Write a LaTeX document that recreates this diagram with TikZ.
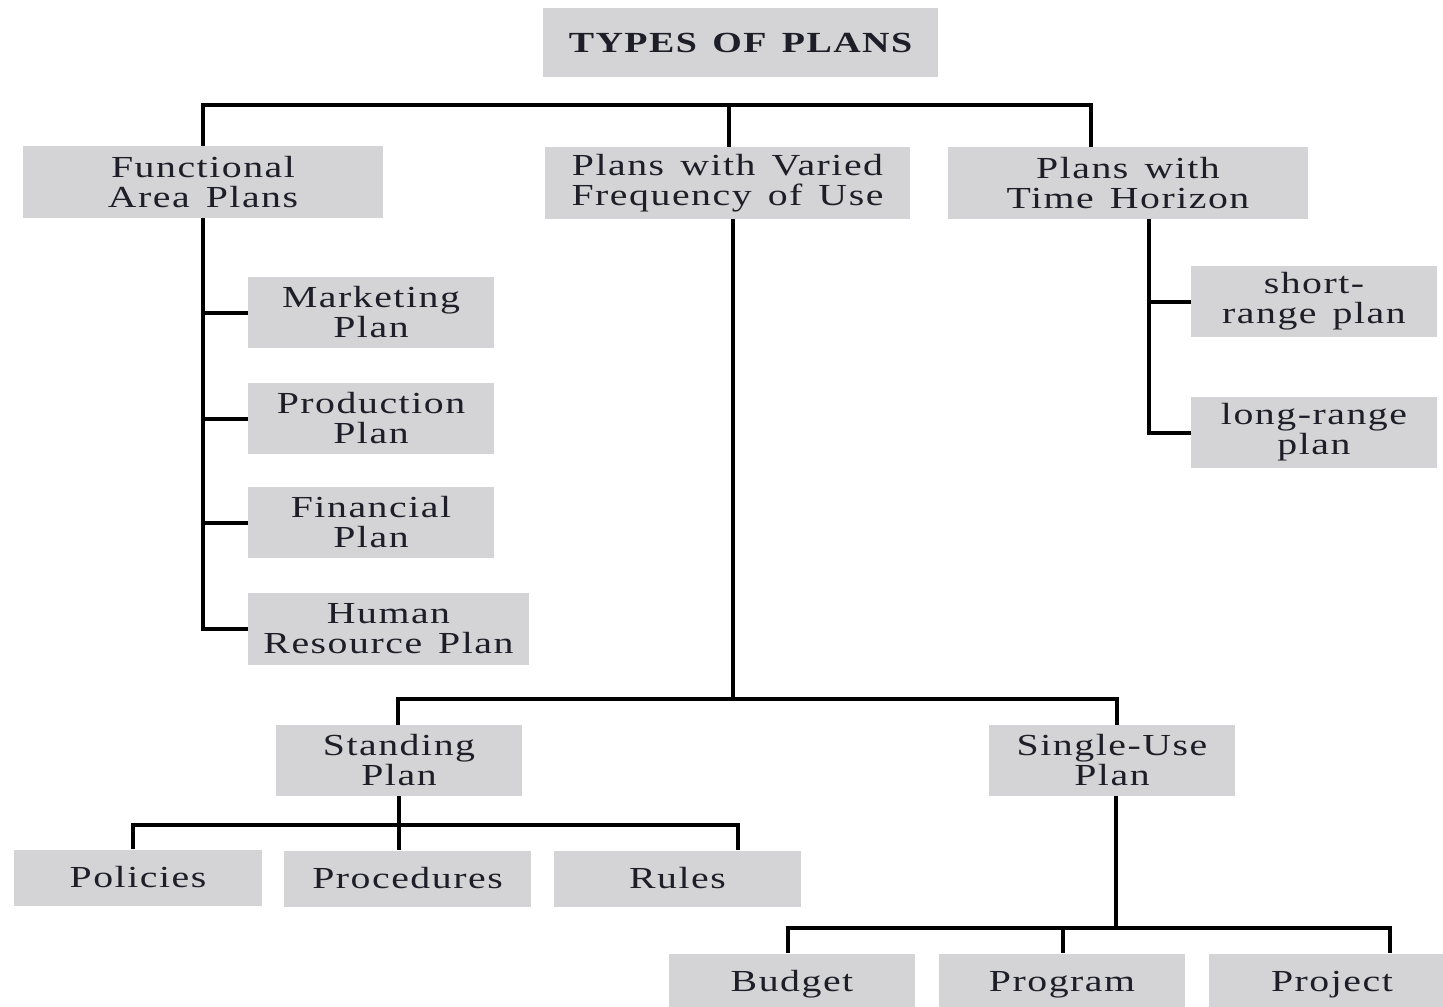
\documentclass[tikz,border=0pt]{standalone}
\usepackage{fontspec}
\setmainfont{Liberation Serif}[FakeStretch=1.3,LetterSpace=5,WordSpace=1.4]
\usetikzlibrary{calc}
\definecolor{boxgray}{RGB}{212,212,214}
\definecolor{ink}{RGB}{30,30,40}
\begin{document}
\begin{tikzpicture}[x=0.5pt,y=-0.5pt,
  pbox/.style={fill=boxgray, text=ink, align=center, inner sep=0pt,
    font=\fontsize{15.3}{15}\selectfont},
  conn/.style={draw=black, line width=2pt}]
\useasboundingbox (0,0) rectangle (1443,1006);
\clip (0,0) rectangle (1443,1006);
\fill[white] (0,0) rectangle (1443,1006);

% title
\node[pbox, minimum width=197.5pt, minimum height=34.5pt,
  font=\fontsize{14.6}{15}\selectfont\bfseries] (title) at (740.5,43) {TYPES OF PLANS};

% level 1
\node[pbox, minimum width=180pt, minimum height=36pt] (fa) at (203,182) {Functional\\Area Plans};
\node[pbox, minimum width=182.5pt, minimum height=36pt] (vu) at (727.5,183) {Plans with Varied\\Frequency of Use};
\node[pbox, minimum width=180pt, minimum height=36pt] (th) at (1128,183) {Plans with\\Time Horizon};

% functional children
\node[pbox, minimum width=123pt, minimum height=35.5pt] (mk) at (371,312.5) {Marketing\\Plan};
\node[pbox, minimum width=123pt, minimum height=35.5pt] (pd) at (371,418.5) {Production\\Plan};
\node[pbox, minimum width=123pt, minimum height=35.5pt] (fi) at (371,522.5) {Financial\\Plan};
\node[pbox, minimum width=140.5pt, minimum height=36pt] (hr) at (388.5,629) {Human\\Resource Plan};

% time horizon children
\node[pbox, minimum width=123pt, minimum height=35.5pt] (sr) at (1314,301.5) {short-\\range plan};
\node[pbox, minimum width=123pt, minimum height=35.5pt] (lr) at (1314,432.5) {long-range\\plan};

% frequency children
\node[pbox, minimum width=123pt, minimum height=35.5pt] (sp) at (399,760.5) {Standing\\Plan};
\node[pbox, minimum width=123pt, minimum height=35.5pt] (su) at (1112,760.5) {Single-Use\\Plan};

% standing children
\node[pbox, minimum width=124pt, minimum height=28pt] (po) at (138,877.5) {Policies};
\node[pbox, minimum width=123.5pt, minimum height=28pt] (pr) at (407.5,878.5) {Procedures};
\node[pbox, minimum width=123.5pt, minimum height=28pt] (ru) at (677.5,878.5) {Rules};

% single-use children
\node[pbox, minimum width=123pt, minimum height=31pt] (bu) at (792,984.5) {Budget};
\node[pbox, minimum width=123pt, minimum height=31pt] (pg) at (1062,984.5) {Program};
\node[pbox, minimum width=123pt, minimum height=31pt] (pj) at (1332,984.5) {Project};

% connectors: top bar
\coordinate (top) at ($(vu.north)+(1.5,-42)$);
\coordinate (thin) at ($(th.north)+(-37,0)$);
\draw[conn] (fa.north) |- (top) -| (thin);
\draw[conn] (top) -- (top |- vu.north);

% functional trunk
\draw[conn] (fa.south) |- (hr.west);
\draw[conn] (mk.west) -- (mk.west -| fa.south);
\draw[conn] (pd.west) -- (pd.west -| fa.south);
\draw[conn] (fi.west) -- (fi.west -| fa.south);

% time horizon trunk
\coordinate (thout) at ($(th.south)+(21,0)$);
\draw[conn] (thout) |- (lr.west);
\draw[conn] (sr.west) -- (sr.west -| thout);

% frequency trunk
\coordinate (vuout) at ($(vu.south)+(5.5,0)$);
\coordinate (vbar) at ($(vuout)+(0,480)$);
\draw[conn] (vuout) -- (vbar);
\coordinate (spin) at ($(sp.north)+(-1,0)$);
\coordinate (suin) at ($(su.north)+(5,0)$);
\draw[conn] (spin) |- (vbar) -| (suin);

% standing branch
\coordinate (sbar) at ($(sp.south)+(0,29)$);
\draw[conn] (sp.south) -- (sp.south |- pr.north);
\coordinate (poin) at ($(po.north)+(-5,0)$);
\coordinate (ruin) at ($(ru.north)+(60.5,0)$);
\draw[conn] (poin) |- (sbar) -| (ruin);

% single-use branch
\coordinate (subar) at ($(su.south)+(4,132)$);
\draw[conn] ($(su.south)+(4,0)$) -- (subar);
\coordinate (buin) at ($(bu.north)+(-4,0)$);
\coordinate (pgin) at ($(pg.north)+(1,0)$);
\coordinate (pjin) at ($(pj.north)+(58,0)$);
\draw[conn] (buin) |- (subar) -| (pjin);
\draw[conn] (pgin) -- (pgin |- subar);
\end{tikzpicture}
\end{document}
